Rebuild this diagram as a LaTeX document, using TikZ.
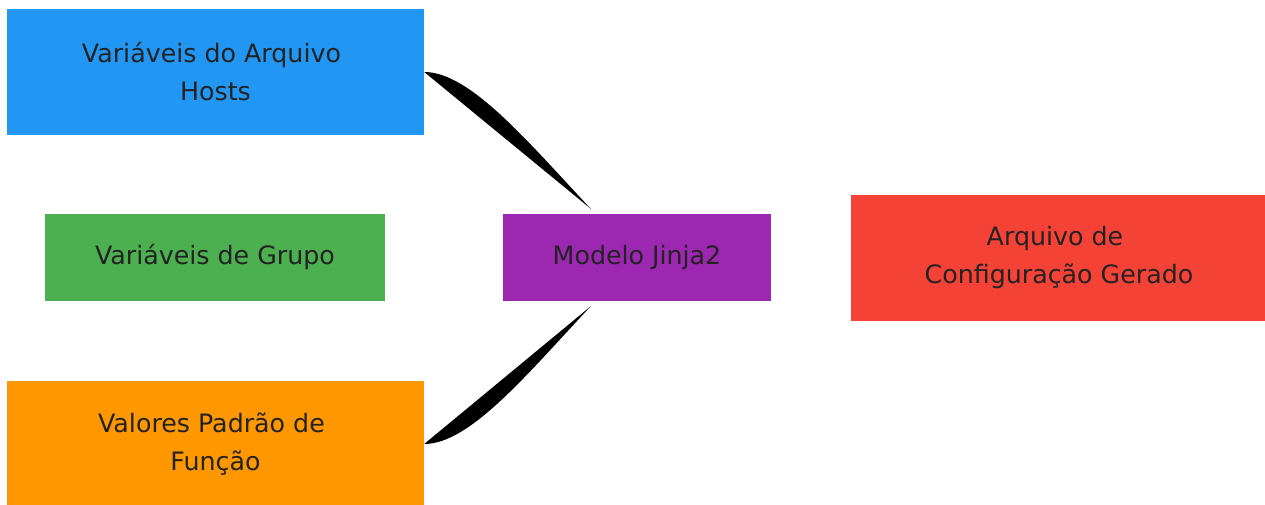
\documentclass[tikz,border=0pt]{standalone}
\usepackage{fontspec}
\setmainfont{DejaVu Sans}
\usetikzlibrary{calc}
\newcommand\trsp{\kern0.318em}
\definecolor{cblue}{HTML}{2196F3}
\definecolor{cgreen}{HTML}{4CAF50}
\definecolor{corange}{HTML}{FF9800}
\definecolor{cpurple}{HTML}{9C27B0}
\definecolor{cred}{HTML}{F44336}
\definecolor{ctext}{HTML}{222222}
\begin{document}
\begin{tikzpicture}[x=1pt,y=-1pt,
  box/.style={inner sep=0pt, align=center, text=ctext,
    font=\fontsize{25.3}{38}\selectfont},
  link/.style={fill=black, draw=none}]
\useasboundingbox (0,0) rectangle (1265,505);
\node[box, fill=cblue, minimum width=417pt, minimum height=126pt] (hosts) at (215.5,72) {Variáveis do Arquivo\trsp\\Hosts};
\node[box, fill=cgreen, minimum width=340pt, minimum height=87pt] (grupo) at (215,257.5) {Variáveis de Grupo};
\node[box, fill=corange, minimum width=417pt, minimum height=126pt] (funcao) at (215.5,444) {Valores Padrão de\trsp\\Função};
\node[box, fill=cpurple, minimum width=268pt, minimum height=87pt] (jinja) at (637,257.5) {Modelo Jinja2};
\node[box, fill=cred, minimum width=416pt, minimum height=126pt] (saida) at (1059,258) {Arquivo de\trsp\\Configuração Gerado};
\coordinate (t1) at ($(jinja.north west)+(88,-5)$);
\coordinate (t2) at ($(jinja.south west)+(88,5)$);
\fill[link] (hosts.east) .. controls +(46,0) and (528,142) .. (t1) -- cycle;
\fill[link] (funcao.east) .. controls +(46,0) and (528,373) .. (t2) -- cycle;
\end{tikzpicture}
\end{document}
